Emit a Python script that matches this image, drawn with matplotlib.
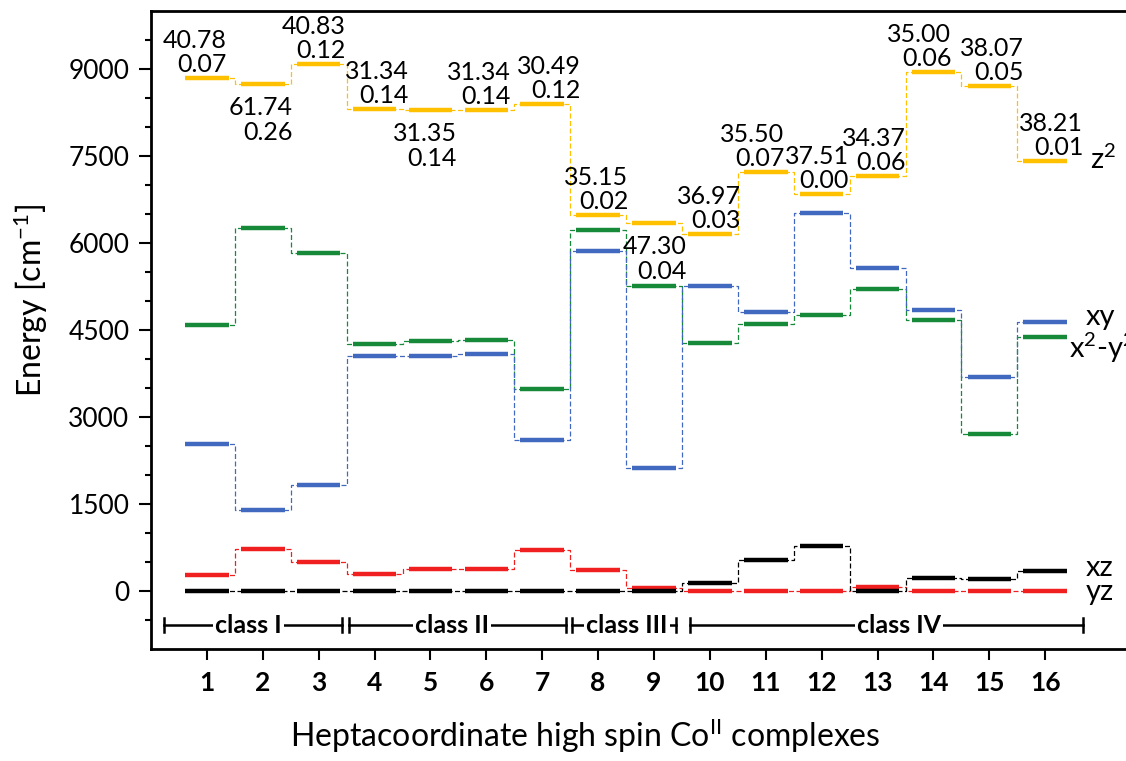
import matplotlib
matplotlib.use("Agg")
import matplotlib.pyplot as plt
import numpy as np

plt.rcParams['font.family'] = ['Lato', 'DejaVu Sans']
plt.rcParams['mathtext.fontset'] = 'custom'
plt.rcParams['mathtext.rm'] = 'Lato'
plt.rcParams['mathtext.it'] = 'Lato:italic'
plt.rcParams['mathtext.bf'] = 'Lato:bold'

# --- data (cm-1) ---
complexes = np.arange(1, 17)
z2 = [8840, 8736, 9086, 8305, 8300, 8288, 8397, 6483, 6350, 6150, 7218, 6845, 7160, 8953, 8702, 7409]
x2y2 = [4586, 6259, 5822, 4264, 4305, 4328, 3477, 6218, 5264, 4270, 4609, 4759, 5201, 4678, 2707, 4374]
xy = [2534, 1397, 1833, 4057, 4052, 4086, 2597, 5862, 2115, 5253, 4816, 6523, 5569, 4845, 3695, 4632]
yz = [276, 719, 494, 287, 374, 374, 701, 356, 52, 0, 0, 0, 75, 0, 0, 0]
xz = [0, 0, 0, 0, 0, 0, 0, 0, 0, 144, 529, 781, 0, 230, 201, 351]

angle_lbl = ["40.78", "61.74", "40.83", "31.34", "31.35", "31.34", "30.49", "35.15",
             "47.30", "36.97", "35.50", "37.51", "34.37", "35.00", "38.07", "38.21"]
dev_lbl = ["0.07", "0.26", "0.12", "0.14", "0.14", "0.14", "0.12", "0.02",
           "0.04", "0.03", "0.07", "0.00", "0.06", "0.06", "0.05", "0.01"]

class_names = ["class I", "class II", "class III", "class IV"]

# --- layout ---
lab_dx = [0.35, 0.53, 0.48, 0.61, 0.47, 0.44, 0.69, 0.54, 0.58, 0.55, 0.33, 0.49, 0.51, 0.32, 0.61, 0.68]
lab_below = [2, 5, 9]
class_span = [(0.23, 3.41), (3.55, 7.43), (7.54, 9.40), (9.65, 16.67)]
class_txt_x = [1.75, 5.39, 8.52, 13.38]

fig = plt.figure(figsize=(11.26, 7.61), dpi=100)
ax = fig.add_axes([151/1126, 1-649/761, 1006/1126, 638/761])

series = [(z2, '#FFC000'), (x2y2, '#178A3A'), (xy, '#4069BF'), (yz, '#F02020'), (xz, '#000000')]
hw = 0.39
for vals, col in series:
    ax.step(complexes, vals, where='mid', color=col, lw=0.9, ls=(0, (4, 2)), zorder=2)
    ax.hlines(vals, complexes - hw, complexes + hw, color=col, lw=3.2, zorder=3)

# numbers above / below the z2 levels
for i, c in enumerate(complexes):
    x = c + lab_dx[i]
    y = z2[i]
    if c in lab_below:
        ax.annotate(angle_lbl[i], (x, y), xytext=(0, -31), textcoords='offset pixels',
                    ha='right', va='baseline', fontsize=18)
        ax.annotate(dev_lbl[i], (x, y), xytext=(0, -56), textcoords='offset pixels',
                    ha='right', va='baseline', fontsize=18)
    else:
        ax.annotate(dev_lbl[i], (x, y), xytext=(0, 6), textcoords='offset pixels',
                    ha='right', va='baseline', fontsize=18)
        ax.annotate(angle_lbl[i], (x, y), xytext=(0, 30), textcoords='offset pixels',
                    ha='right', va='baseline', fontsize=18)

# orbital labels on the right
ax.text(16.81, 7450, 'z$^2$', fontsize=21, va='center', ha='left')
ax.text(16.72, 4720, 'xy', fontsize=21, va='center', ha='left')
ax.text(16.42, 4190, 'x$^2$-y$^2$', fontsize=21, va='center', ha='left')
ax.text(16.72, 400, 'xz', fontsize=21, va='center', ha='left')
ax.text(16.72, -20, 'yz', fontsize=21, va='center', ha='left')

# class brackets
yb = -590
for (a, b), name, tx in zip(class_span, class_names, class_txt_x):
    ax.plot([a, b], [yb, yb], color='black', lw=1.8, zorder=3)
    ax.plot([a, a], [yb - 120, yb + 120], color='black', lw=1.8, zorder=3)
    ax.plot([b, b], [yb - 120, yb + 120], color='black', lw=1.8, zorder=3)
    ax.text(tx, yb, name, fontsize=18, fontweight='bold', ha='center', va='center',
            bbox=dict(facecolor='white', edgecolor='none', pad=1.5), zorder=4)

ax.set_xlim(0, 18)
ax.set_ylim(-1000, 10000)
ax.set_xticks(complexes)
ax.set_xticklabels([str(c) for c in complexes], fontweight='bold', fontsize=19)
ax.set_yticks(np.arange(0, 9001, 1500))
ax.set_yticks(np.arange(-500, 10000, 500), minor=True)
ax.tick_params(axis='y', which='major', length=8.5, width=1.5, labelsize=19, pad=7)
ax.tick_params(axis='y', which='minor', length=4, width=1.5)
ax.tick_params(axis='x', which='major', length=8, width=1.5, pad=8)
for s in ax.spines.values():
    s.set_linewidth(2)

ax.set_ylabel('Energy [cm$^{-1}$]', fontsize=23)
ax.yaxis.set_label_coords(-0.100, 0.547)
ax.set_xlabel('Heptacoordinate high spin Co$^{\\mathregular{II}}$ complexes', fontsize=23)
ax.xaxis.set_label_coords(0.432, -0.105)

plt.savefig("out.png", dpi=100)
